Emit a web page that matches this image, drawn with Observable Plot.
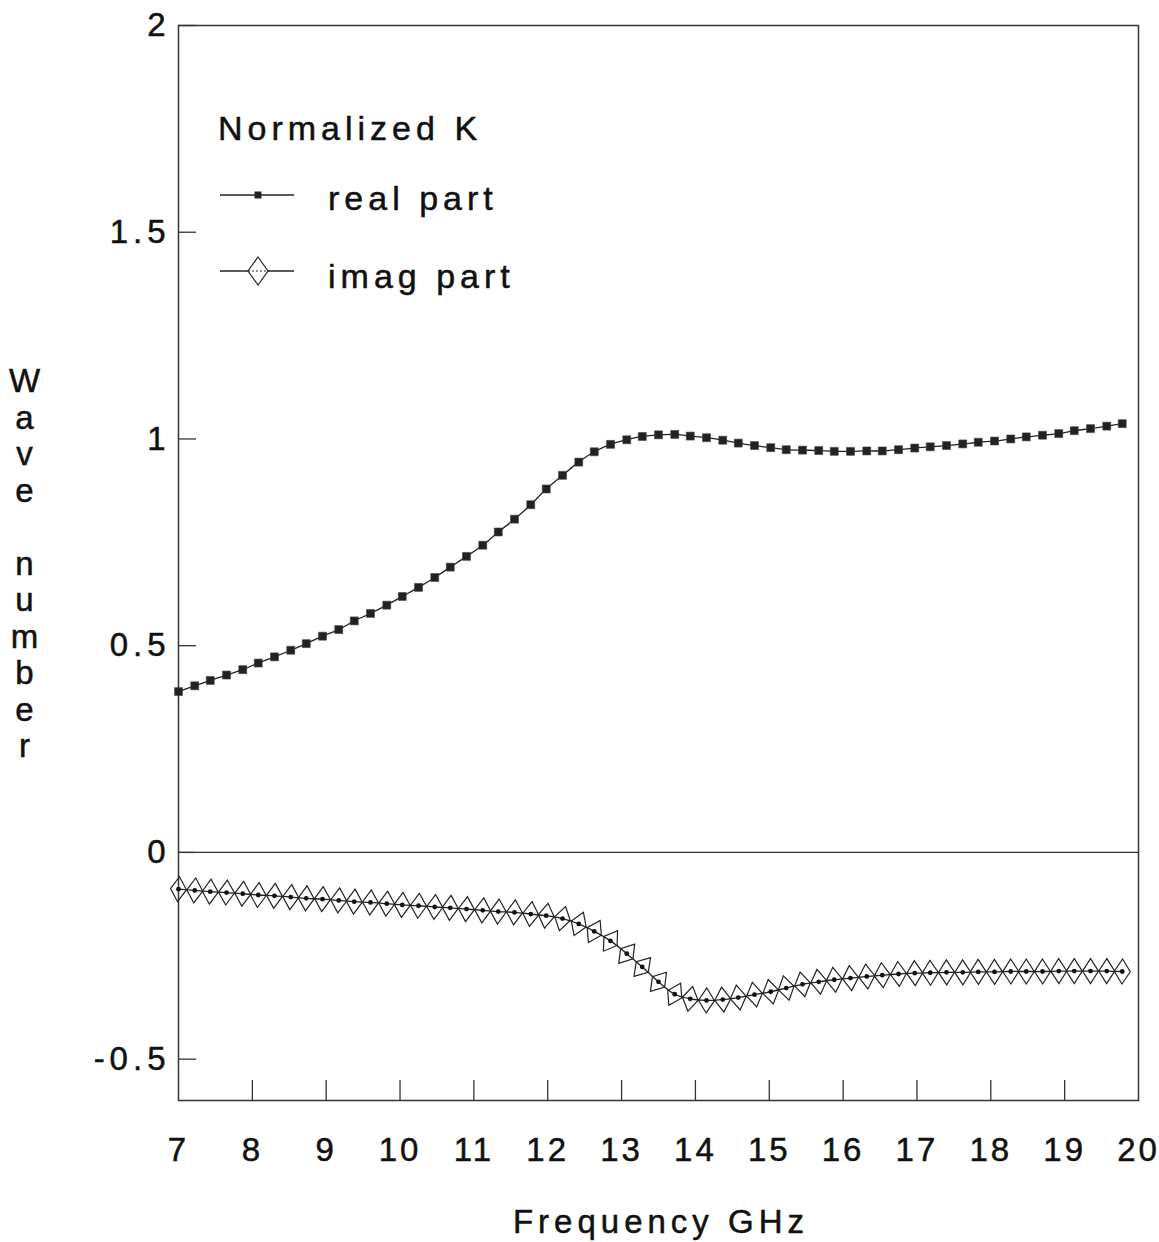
<!DOCTYPE html>
<html>
<head>
<meta charset="utf-8">
<script src="https://cdn.jsdelivr.net/npm/d3@7"></script>
<script src="https://cdn.jsdelivr.net/npm/@observablehq/plot@0.6"></script>
<style>
  body { margin: 0; background: #fff; }
  #chart svg { display: block; }
  #chart svg text { letter-spacing: 5px; stroke: #111; stroke-width: 0.5px; }
  #chart svg g[aria-label="x-axis tick label"] text { letter-spacing: 3px; }
</style>
</head>
<body>
<div id="chart"></div>
<script>
// Frequency sweep (GHz)
const frequency = [
  7.00, 7.22, 7.43, 7.65, 7.87, 8.08, 8.30, 8.52, 8.73, 8.95,
  9.17, 9.38, 9.60, 9.82, 10.03, 10.25, 10.47, 10.68, 10.90, 11.12,
  11.33, 11.55, 11.77, 11.98, 12.20, 12.42, 12.63, 12.85, 13.07, 13.28,
  13.50, 13.72, 13.93, 14.15, 14.37, 14.58, 14.80, 15.02, 15.23, 15.45,
  15.67, 15.88, 16.10, 16.32, 16.53, 16.75, 16.97, 17.18, 17.40, 17.62,
  17.83, 18.05, 18.27, 18.48, 18.70, 18.92, 19.13, 19.35, 19.57, 19.78
];

// Normalized wave number, real part
const realPart = [
  0.389, 0.403, 0.416, 0.429, 0.442, 0.458, 0.473, 0.489, 0.505, 0.523,
  0.539, 0.560, 0.578, 0.598, 0.619, 0.641, 0.665, 0.690, 0.716, 0.743,
  0.775, 0.806, 0.841, 0.879, 0.912, 0.944, 0.969, 0.987, 0.998, 1.006,
  1.010, 1.011, 1.007, 1.003, 0.997, 0.990, 0.984, 0.979, 0.974, 0.973,
  0.972, 0.970, 0.970, 0.971, 0.971, 0.974, 0.978, 0.981, 0.984, 0.988,
  0.992, 0.995, 1.000, 1.005, 1.009, 1.013, 1.020, 1.025, 1.031, 1.037
];

// Normalized wave number, imaginary part
const imagPart = [
  -0.089, -0.092, -0.095, -0.097, -0.100, -0.103, -0.105, -0.108, -0.111, -0.113,
  -0.116, -0.119, -0.121, -0.124, -0.127, -0.129, -0.132, -0.134, -0.137, -0.140,
  -0.143, -0.145, -0.149, -0.153, -0.160, -0.173, -0.191, -0.214, -0.245, -0.277,
  -0.313, -0.343, -0.354, -0.358, -0.356, -0.351, -0.344, -0.337, -0.328, -0.319,
  -0.313, -0.308, -0.304, -0.300, -0.297, -0.294, -0.292, -0.291, -0.290, -0.290,
  -0.289, -0.289, -0.288, -0.288, -0.288, -0.287, -0.287, -0.287, -0.287, -0.288
];

const xTicks = [7, 8, 9, 10, 11, 12, 13, 14, 15, 16, 17, 18, 19, 20];
const yTicks = [-0.5, 0, 0.5, 1, 1.5, 2];

const legendTitle = "Normalized K";
const seriesNames = ["real part", "imag part"];
const xTitle = "Frequency GHz";
const yTitle = "Wave number";

// Layout
const W = 1159, H = 1242;
const margin = {top: 25, right: 21, bottom: 142, left: 178};
const xDomain = [7, 20], yDomain = [-0.6, 2];
const plotW = W - margin.left - margin.right;
const plotH = H - margin.top - margin.bottom;
const font = "'Liberation Sans', Arial, Helvetica, sans-serif";
const ink = "#222";
const tickLen = 20;

const rows = frequency.map((f, i) => ({f, re: realPart[i], im: imagPart[i]}));

// Diamonds follow the direction of the imaginary curve on screen
const kx = plotW / (xDomain[1] - xDomain[0]);
const ky = plotH / (yDomain[1] - yDomain[0]);
rows.forEach((d, i) => {
  const a = rows[Math.max(0, i - 1)], b = rows[Math.min(rows.length - 1, i + 1)];
  d.angle = Math.atan2(-(b.im - a.im) * ky, (b.f - a.f) * kx) * 180 / Math.PI;
});

// Tall open diamond marker
const diamond = {
  draw(ctx) {
    ctx.moveTo(0, -12.5);
    ctx.lineTo(8, 0);
    ctx.lineTo(0, 12.5);
    ctx.lineTo(-8, 0);
    ctx.closePath();
  }
};

const chart = Plot.plot({
  width: W,
  height: H,
  marginTop: margin.top,
  marginRight: margin.right,
  marginBottom: margin.bottom,
  marginLeft: margin.left,
  style: {fontFamily: font, fontSize: "33px", color: "#111", background: "#fff"},
  x: {domain: xDomain, label: null},
  y: {domain: yDomain, label: null},
  marks: [
    Plot.frame({stroke: "#333", strokeWidth: 1.5}),
    Plot.ruleY([0], {stroke: "#333", strokeWidth: 1.3}),
    // inward ticks along the bottom edge
    Plot.tickX(xTicks.slice(1, -1), {x: d => d, insetTop: plotH - tickLen, stroke: "#333", strokeWidth: 1.3}),
    Plot.axisX(xTicks, {tickSize: 0, tickPadding: 37, tickFormat: d => String(d), dx: 0, label: null}),
    Plot.axisY(yTicks, {tickSize: -18, tickPadding: 26, tickFormat: d => String(d), stroke: "#333", strokeWidth: 1.3, label: null}),
    Plot.line(rows, {x: "f", y: "re", curve: "catmull-rom", stroke: ink, strokeWidth: 1.3}),
    Plot.dot(rows, {x: "f", y: "re", symbol: "square", r: 4.5, fill: ink, stroke: "#444", strokeWidth: 0.6}),
    Plot.line(rows, {x: "f", y: "im", curve: "catmull-rom", stroke: ink, strokeWidth: 1.3}),
    Plot.dot(rows, {x: "f", y: "im", symbol: diamond, rotate: "angle", stroke: ink, strokeWidth: 1.2, fill: "none"}),
    Plot.dot(rows, {x: "f", y: "im", r: 2.4, fill: "#111"})
  ]
});

document.getElementById("chart").appendChild(chart);

// Titles and legend
const svg = d3.select(chart);
const g = svg.append("g")
  .attr("font-family", font)
  .attr("fill", "#111")
  .attr("text-anchor", "start");

// x-axis title
g.append("text")
  .attr("x", margin.left + plotW / 2 + 3)
  .attr("y", H - 9)
  .attr("text-anchor", "middle")
  .attr("font-size", 33)
  .text(xTitle);

// y-axis title, letters stacked vertically
const yChars = Array.from(yTitle);
const step = 36.5;
const yStart = margin.top + plotH / 2 - step * (yChars.length - 1) / 2 + 12;
const yLabel = g.append("text")
  .attr("text-anchor", "middle")
  .attr("font-size", 33);
yChars.forEach((c, i) => {
  yLabel.append("tspan")
    .attr("x", 27)
    .attr("y", yStart + i * step)
    .text(c === " " ? "\u00a0" : c);
});

// Legend
const lx = margin.left + 40;
g.append("text")
  .attr("x", lx)
  .attr("y", margin.top + 115)
  .attr("font-size", 34)
  .text(legendTitle);

const rowsY = [margin.top + 170, margin.top + 246];
const labelX = margin.left + 150;
const lineX1 = margin.left + 42, lineX2 = margin.left + 116, markX = margin.left + 80;

// real part
g.append("line")
  .attr("x1", lineX1).attr("x2", lineX2)
  .attr("y1", rowsY[0]).attr("y2", rowsY[0])
  .attr("stroke", ink).attr("stroke-width", 1.3);
g.append("rect")
  .attr("x", markX - 3.5).attr("y", rowsY[0] - 3.5)
  .attr("width", 7).attr("height", 7)
  .attr("fill", ink);
g.append("text")
  .attr("x", labelX).attr("y", rowsY[0] + 15)
  .attr("font-size", 34)
  .text(seriesNames[0]);

// imag part
g.append("line")
  .attr("x1", lineX1).attr("x2", lineX2)
  .attr("y1", rowsY[1]).attr("y2", rowsY[1])
  .attr("stroke", ink).attr("stroke-width", 1.3);
g.append("path")
  .attr("d", `M${markX},${rowsY[1] - 14}L${markX + 10},${rowsY[1]}L${markX},${rowsY[1] + 14}L${markX - 10},${rowsY[1]}Z`)
  .attr("fill", "#fff")
  .attr("stroke", ink).attr("stroke-width", 1.2);
g.append("line")
  .attr("x1", markX - 10).attr("x2", markX + 10)
  .attr("y1", rowsY[1]).attr("y2", rowsY[1])
  .attr("stroke", ink).attr("stroke-width", 1).attr("stroke-dasharray", "2,2");
g.append("text")
  .attr("x", labelX).attr("y", rowsY[1] + 17)
  .attr("font-size", 34)
  .text(seriesNames[1]);
</script>
</body>
</html>
